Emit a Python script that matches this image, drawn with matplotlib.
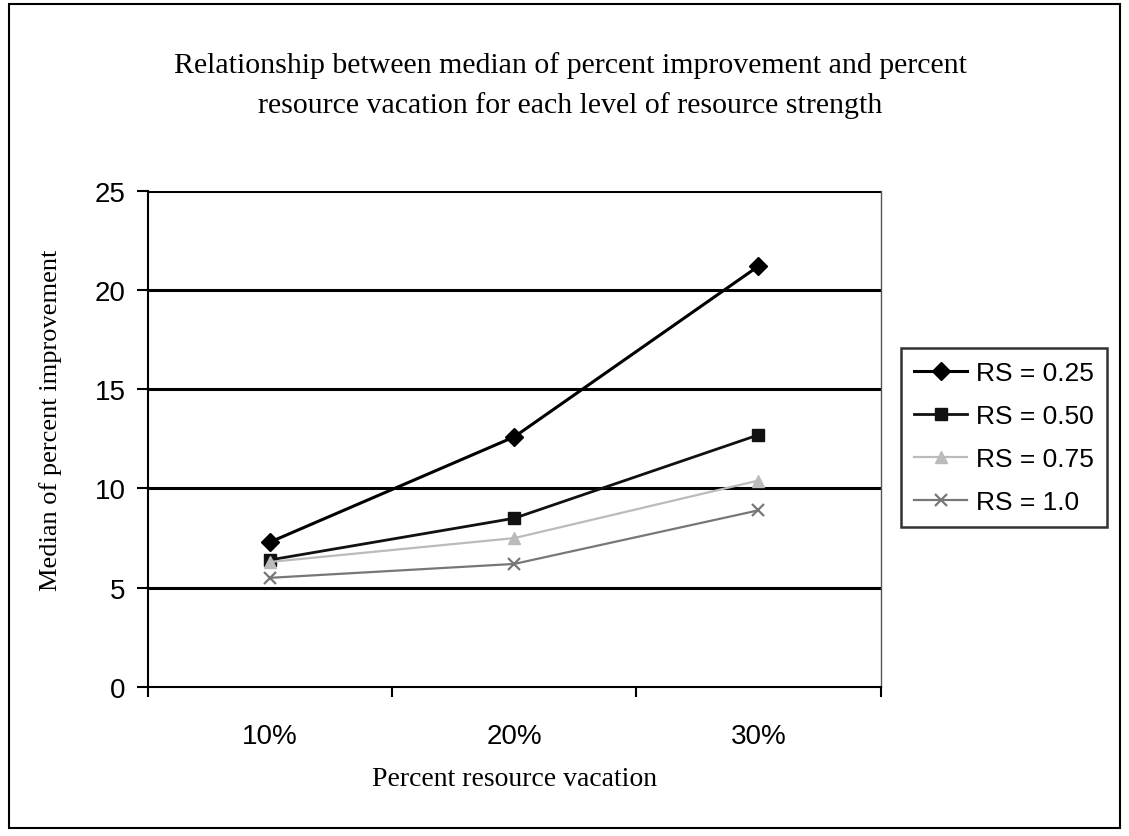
import numpy as np
import matplotlib.pyplot as plt
from matplotlib.patches import Rectangle

# categories and series
cats = ['10%', '20%', '30%']
rs025 = [7.3, 12.6, 21.2]
rs050 = [6.4, 8.5, 12.7]
rs075 = [6.3, 7.5, 10.4]
rs100 = [5.5, 6.2, 8.9]
yticks = [0, 5, 10, 15, 20, 25]

fig = plt.figure(figsize=(11.29, 8.37), dpi=100)
ax = fig.add_axes([0.131, 0.178, 0.649, 0.593])

# outer chart border
fig.patches.append(Rectangle((0.008, 0.01), 0.984, 0.984, transform=fig.transFigure,
                             fill=False, edgecolor='black', lw=1.5))

x = np.arange(len(cats))
for yv in yticks[1:]:
    ax.axhline(yv, color='black', lw=2.2, zorder=1)

ax.plot(x, rs025, color='black', lw=2.2, marker='D', ms=9, label='RS = 0.25', zorder=6)
ax.plot(x, rs050, color='#111111', lw=2, marker='s', ms=8.5, label='RS = 0.50', zorder=4)
ax.plot(x, rs075, color='#bbbbbb', lw=1.6, marker='^', ms=9, label='RS = 0.75', zorder=5)
ax.plot(x, rs100, color='#777777', lw=1.6, marker='x', ms=9, mew=1.6, label='RS = 1.0', zorder=3)

ax.set_xlim(-0.5, 2.5)
ax.set_ylim(0, 25)
ax.set_yticks(yticks)
ax.set_yticklabels([str(v) for v in yticks], fontfamily='Liberation Sans', fontsize=20)
ax.set_xticks(x)
ax.set_xticklabels(cats, fontfamily='Liberation Sans', fontsize=20)
ax.tick_params(axis='x', length=0, pad=26)
ax.set_xticks([-0.5, 0.5, 1.5, 2.5], minor=True)
ax.tick_params(axis='x', which='minor', length=7, width=1.5, direction='out')
ax.tick_params(axis='y', length=8, width=1.5, direction='out', pad=8)

for s in ax.spines.values():
    s.set_linewidth(1.5)
ax.spines['top'].set_visible(False)
ax.spines['right'].set_color('#555555')
ax.spines['right'].set_linewidth(1)

ax.set_xlabel('Percent resource vacation', fontfamily='Liberation Serif', fontsize=20, labelpad=12)
ax.set_ylabel('Median of percent improvement', fontfamily='Liberation Serif', fontsize=19)
ax.yaxis.set_label_coords(-0.117, 0.54)

fig.text(0.505, 0.898, 'Relationship between median of percent improvement and percent\n'
         'resource vacation for each level of resource strength',
         ha='center', va='center', fontfamily='Liberation Serif', fontsize=21.5, linespacing=1.65)

leg = ax.legend(loc='upper left', bbox_to_anchor=(901 / 1129, 1 - 349 / 837),
                bbox_transform=fig.transFigure, frameon=True, fancybox=False,
                edgecolor='black', prop={'family': 'Liberation Sans', 'size': 19},
                handlelength=2.0, handletextpad=0.35, borderpad=0.5, labelspacing=0.72,
                borderaxespad=0)
leg.get_frame().set_linewidth(1.8)

plt.savefig('out.png')
